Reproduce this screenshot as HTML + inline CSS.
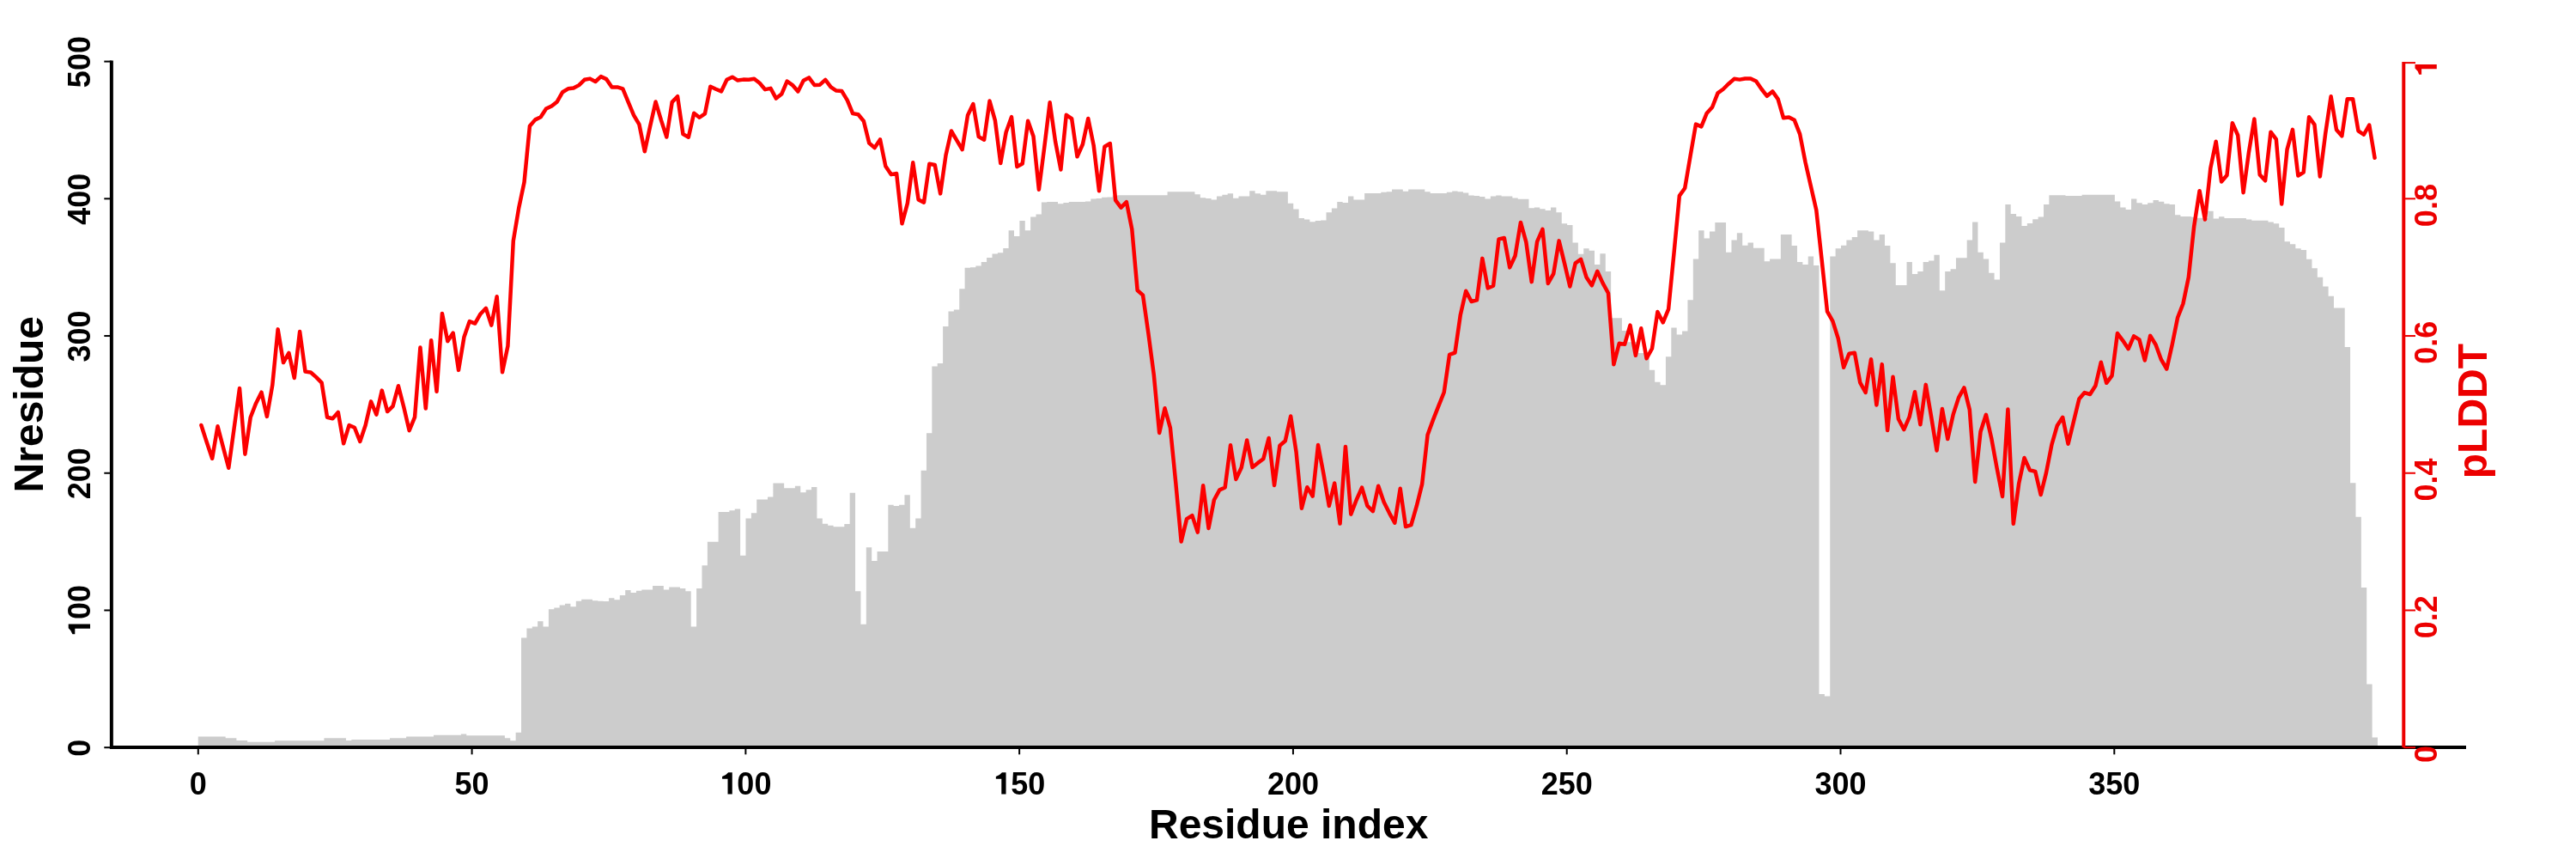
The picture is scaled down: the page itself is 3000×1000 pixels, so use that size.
<!DOCTYPE html>
<html><head><meta charset="utf-8"><title>plot</title>
<style>html,body{margin:0;padding:0;background:#fff}svg{display:block;will-change:transform}text{font-family:"Liberation Sans",sans-serif;font-weight:bold}</style></head><body>
<svg width="3000" height="1000" viewBox="0 0 3000 1000">
<rect x="0" y="0" width="3000" height="1000" fill="#ffffff"/>
<path d="M230.75 870.2L230.75 857.42L237.13 857.42L237.13 857.42L243.5 857.42L243.5 857.42L249.88 857.42L249.88 857.42L256.26 857.42L256.26 857.42L262.64 857.42L262.64 859.34L269.01 859.34L269.01 859.34L275.39 859.34L275.39 862.05L281.77 862.05L281.77 862.05L288.15 862.05L288.15 863.81L294.52 863.81L294.52 863.81L300.9 863.81L300.9 863.81L307.28 863.81L307.28 863.81L313.66 863.81L313.66 863.81L320.04 863.81L320.04 862.29L326.41 862.29L326.41 862.29L332.79 862.29L332.79 862.29L339.17 862.29L339.17 862.29L345.55 862.29L345.55 862.29L351.92 862.29L351.92 862.29L358.3 862.29L358.3 862.29L364.68 862.29L364.68 862.29L371.06 862.29L371.06 862.29L377.43 862.29L377.43 859.34L383.81 859.34L383.81 859.34L390.19 859.34L390.19 859.34L396.56 859.34L396.56 859.34L402.94 859.34L402.94 862.05L409.32 862.05L409.32 860.94L415.7 860.94L415.7 860.94L422.08 860.94L422.08 860.94L428.45 860.94L428.45 860.94L434.83 860.94L434.83 860.94L441.21 860.94L441.21 860.94L447.59 860.94L447.59 860.94L453.96 860.94L453.96 859.34L460.34 859.34L460.34 859.34L466.72 859.34L466.72 859.34L473.1 859.34L473.1 857.42L479.47 857.42L479.47 857.42L485.85 857.42L485.85 857.42L492.23 857.42L492.23 857.42L498.61 857.42L498.61 857.42L504.98 857.42L504.98 855.83L511.36 855.83L511.36 855.83L517.74 855.83L517.74 855.83L524.12 855.83L524.12 855.83L530.49 855.83L530.49 855.83L536.87 855.83L536.87 854.55L543.25 854.55L543.25 856.14L549.62 856.14L549.62 856.14L556 856.14L556 856.14L562.38 856.14L562.38 856.14L568.76 856.14L568.76 856.14L575.13 856.14L575.13 856.14L581.51 856.14L581.51 856.14L587.89 856.14L587.89 859.34L594.27 859.34L594.27 862.21L600.64 862.21L600.64 852.63L607.02 852.63L607.02 742.42L613.4 742.42L613.4 731.48L619.78 731.48L619.78 729.62L626.15 729.62L626.15 723.33L632.53 723.33L632.53 729.62L638.91 729.62L638.91 709.37L645.29 709.37L645.29 707.5L651.66 707.5L651.66 704.48L658.04 704.48L658.04 702.85L664.42 702.85L664.42 706.34L670.8 706.34L670.8 699.82L677.17 699.82L677.17 697.73L683.55 697.73L683.55 697.73L689.93 697.73L689.93 699.36L696.31 699.36L696.31 699.82L702.68 699.82L702.68 700.06L709.06 700.06L709.06 696.33L715.44 696.33L715.44 698.19L721.82 698.19L721.82 693.07L728.2 693.07L728.2 687.02L734.57 687.02L734.57 690.05L740.95 690.05L740.95 687.72L747.33 687.72L747.33 686.55L753.71 686.55L753.71 686.55L760.08 686.55L760.08 681.9L766.46 681.9L766.46 681.9L772.84 681.9L772.84 686.55L779.22 686.55L779.22 683.53L785.59 683.53L785.59 683.53L791.97 683.53L791.97 684.93L798.35 684.93L798.35 688.18L804.73 688.18L804.73 729.62L811.1 729.62L811.1 684.93L817.48 684.93L817.48 658.16L823.86 658.16L823.86 630.82L830.24 630.82L830.24 630.82L836.61 630.82L836.61 595.9L842.99 595.9L842.99 595.9L849.37 595.9L849.37 594.27L855.75 594.27L855.75 592.41L862.12 592.41L862.12 646.65L868.5 646.65L868.5 603.58L874.88 603.58L874.88 597.3L881.25 597.3L881.25 581.47L887.63 581.47L887.63 581.47L894.01 581.47L894.01 578.45L900.39 578.45L900.39 562.38L906.76 562.38L906.76 562.38L913.14 562.38L913.14 568.2L919.52 568.2L919.52 568.2L925.9 568.2L925.9 565.64L932.28 565.64L932.28 573.32L938.65 573.32L938.65 570.3L945.03 570.3L945.03 567.04L951.41 567.04L951.41 603.58L957.79 603.58L957.79 609.87L964.16 609.87L964.16 611.73L970.54 611.73L970.54 613.36L976.92 613.36L976.92 613.36L983.3 613.36L983.3 610.1L989.67 610.1L989.67 573.79L996.05 573.79L996.05 688.18L1002.43 688.18L1002.43 726.82L1008.81 726.82L1008.81 637.34L1015.18 637.34L1015.18 652.93L1021.56 652.93L1021.56 641.99L1027.94 641.99L1027.94 641.99L1034.32 641.99L1034.32 587.76L1040.69 587.76L1040.69 588.92L1047.07 588.92L1047.07 587.76L1053.45 587.76L1053.45 576.35L1059.83 576.35L1059.83 614.76L1066.2 614.76L1066.2 603.58L1072.58 603.58L1072.58 547.72L1078.96 547.72L1078.96 504.19L1085.34 504.19L1085.34 426.43L1091.71 426.43L1091.71 422.94L1098.09 422.94L1098.09 379.88L1104.47 379.88L1104.47 362.42L1110.85 362.42L1110.85 360.56L1117.22 360.56L1117.22 336.35L1123.6 336.35L1123.6 311.68L1129.98 311.68L1129.98 311.21L1136.36 311.21L1136.36 309.58L1142.73 309.58L1142.73 304.93L1149.11 304.93L1149.11 300.04L1155.49 300.04L1155.49 295.38L1161.87 295.38L1161.87 294.22L1168.24 294.22L1168.24 289.1L1174.62 289.1L1174.62 268.15L1181 268.15L1181 275L1187.38 275L1187.38 257.07L1193.75 257.07L1193.75 268.25L1200.13 268.25L1200.13 252.41L1206.51 252.41L1206.51 249.61L1212.89 249.61L1212.89 235.4L1219.26 235.4L1219.26 234.94L1225.64 234.94L1225.64 234.94L1232.02 234.94L1232.02 237.27L1238.39 237.27L1238.39 236.1L1244.77 236.1L1244.77 234.94L1251.15 234.94L1251.15 234.94L1257.53 234.94L1257.53 234.94L1263.9 234.94L1263.9 234.47L1270.28 234.47L1270.28 231.44L1276.66 231.44L1276.66 230.98L1283.04 230.98L1283.04 229.81L1289.41 229.81L1289.41 229.58L1295.79 229.58L1295.79 227.48L1302.17 227.48L1302.17 227.25L1308.55 227.25L1308.55 227.25L1314.92 227.25L1314.92 227.25L1321.3 227.25L1321.3 227.25L1327.68 227.25L1327.68 227.25L1334.06 227.25L1334.06 227.25L1340.44 227.25L1340.44 227.25L1346.81 227.25L1346.81 227.25L1353.19 227.25L1353.19 227.25L1359.57 227.25L1359.57 223.29L1365.95 223.29L1365.95 223.29L1372.32 223.29L1372.32 223.29L1378.7 223.29L1378.7 223.29L1385.08 223.29L1385.08 223.29L1391.46 223.29L1391.46 226.32L1397.83 226.32L1397.83 230.28L1404.21 230.28L1404.21 230.98L1410.59 230.98L1410.59 232.61L1416.97 232.61L1416.97 228.42L1423.34 228.42L1423.34 226.79L1429.72 226.79L1429.72 225.16L1436.1 225.16L1436.1 230.75L1442.48 230.75L1442.48 228.42L1448.85 228.42L1448.85 228.42L1455.23 228.42L1455.23 222.13L1461.61 222.13L1461.61 225.16L1467.99 225.16L1467.99 226.79L1474.36 226.79L1474.36 222.13L1480.74 222.13L1480.74 222.13L1487.12 222.13L1487.12 223.29L1493.5 223.29L1493.5 223.29L1499.87 223.29L1499.87 236.8L1506.25 236.8L1506.25 243.56L1512.63 243.56L1512.63 254.04L1519.01 254.04L1519.01 255.44L1525.38 255.44L1525.38 258.23L1531.76 258.23L1531.76 257.07L1538.14 257.07L1538.14 256.6L1544.52 256.6L1544.52 247.28L1550.89 247.28L1550.89 242.62L1557.27 242.62L1557.27 234.94L1563.65 234.94L1563.65 236.1L1570.03 236.1L1570.03 228.42L1576.4 228.42L1576.4 232.61L1582.78 232.61L1582.78 232.61L1589.16 232.61L1589.16 224.92L1595.54 224.92L1595.54 224.92L1601.91 224.92L1601.91 224.92L1608.29 224.92L1608.29 223.76L1614.67 223.76L1614.67 223.29L1621.05 223.29L1621.05 220.5L1627.42 220.5L1627.42 220.5L1633.8 220.5L1633.8 222.83L1640.18 222.83L1640.18 220.5L1646.56 220.5L1646.56 220.5L1652.93 220.5L1652.93 220.5L1659.31 220.5L1659.31 223.29L1665.69 223.29L1665.69 224.92L1672.07 224.92L1672.07 224.92L1678.44 224.92L1678.44 224.92L1684.82 224.92L1684.82 223.76L1691.2 223.76L1691.2 222.59L1697.58 222.59L1697.58 223.29L1703.95 223.29L1703.95 224.46L1710.33 224.46L1710.33 227.48L1716.71 227.48L1716.71 227.95L1723.09 227.95L1723.09 229.12L1729.46 229.12L1729.46 231.44L1735.84 231.44L1735.84 228.42L1742.22 228.42L1742.22 227.48L1748.6 227.48L1748.6 228.42L1754.97 228.42L1754.97 228.42L1761.35 228.42L1761.35 230.48L1767.73 230.48L1767.73 231.65L1774.11 231.65L1774.11 231.65L1780.48 231.65L1780.48 242.13L1786.86 242.13L1786.86 241.43L1793.24 241.43L1793.24 243.29L1799.62 243.29L1799.62 244.92L1805.99 244.92L1805.99 241.43L1812.37 241.43L1812.37 247.25L1818.75 247.25L1818.75 260.3L1825.12 260.3L1825.12 261.93L1831.5 261.93L1831.5 282.42L1837.88 282.42L1837.88 295.7L1844.26 295.7L1844.26 289.18L1850.63 289.18L1850.63 291.74L1857.01 291.74L1857.01 308.04L1863.39 308.04L1863.39 295.23L1869.77 295.23L1869.77 315.96L1876.15 315.96L1876.15 370.35L1882.52 370.35L1882.52 370.35L1888.9 370.35L1888.9 384.97L1895.28 384.97L1895.28 398.24L1901.66 398.24L1901.66 398.24L1908.03 398.24L1908.03 411.09L1914.41 411.09L1914.41 411.09L1920.79 411.09L1920.79 430.83L1927.17 430.83L1927.17 444.8L1933.54 444.8L1933.54 448.29L1939.92 448.29L1939.92 415.23L1946.3 415.23L1946.3 381.48L1952.68 381.48L1952.68 389.39L1959.05 389.39L1959.05 385.44L1965.43 385.44L1965.43 349.36L1971.81 349.36L1971.81 301.52L1978.19 301.52L1978.19 268.21L1984.56 268.21L1984.56 277.53L1990.94 277.53L1990.94 269.61L1997.32 269.61L1997.32 258.9L2003.7 258.9L2003.7 258.9L2010.07 258.9L2010.07 293.84L2016.45 293.84L2016.45 279.39L2022.83 279.39L2022.83 271.24L2029.21 271.24L2029.21 285.68L2035.58 285.68L2035.58 282.42L2041.96 282.42L2041.96 288.71L2048.34 288.71L2048.34 288.71L2054.72 288.71L2054.72 304.32L2061.09 304.32L2061.09 301.52L2067.47 301.52L2067.47 301.52L2073.85 301.52L2073.85 273.11L2080.23 273.11L2080.23 273.11L2086.6 273.11L2086.6 285.92L2092.98 285.92L2092.98 305.02L2099.36 305.02L2099.36 308.04L2105.74 308.04L2105.74 298.49L2112.11 298.49L2112.11 308.98L2118.49 308.98L2118.49 808L2124.87 808L2124.87 810.5L2131.24 810.5L2131.24 298.49L2137.62 298.49L2137.62 289.18L2144 289.18L2144 285.68L2150.38 285.68L2150.38 279.39L2156.76 279.39L2156.76 275.9L2163.13 275.9L2163.13 268.21L2169.51 268.21L2169.51 268.21L2175.89 268.21L2175.89 269.61L2182.27 269.61L2182.27 279.39L2188.64 279.39L2188.64 273.11L2195.02 273.11L2195.02 285.92L2201.4 285.92L2201.4 306.18L2207.78 306.18L2207.78 331.9L2214.15 331.9L2214.15 331.9L2220.53 331.9L2220.53 305.02L2226.91 305.02L2226.91 319.1L2233.28 319.1L2233.28 315.96L2239.66 315.96L2239.66 305.02L2246.04 305.02L2246.04 303.39L2252.42 303.39L2252.42 296.86L2258.8 296.86L2258.8 338.18L2265.17 338.18L2265.17 315.96L2271.55 315.96L2271.55 313.17L2277.93 313.17L2277.93 300.36L2284.31 300.36L2284.31 300.36L2290.68 300.36L2290.68 279.39L2297.06 279.39L2297.06 258.43L2303.44 258.43L2303.44 293.84L2309.82 293.84L2309.82 301.52L2316.19 301.52L2316.19 317.83L2322.57 317.83L2322.57 325.61L2328.95 325.61L2328.95 282.42L2335.33 282.42L2335.33 237.97L2341.7 237.97L2341.7 248.91L2348.08 248.91L2348.08 251.94L2354.46 251.94L2354.46 262.89L2360.84 262.89L2360.84 260.09L2367.21 260.09L2367.21 255.2L2373.59 255.2L2373.59 252.41L2379.97 252.41L2379.97 237.97L2386.35 237.97L2386.35 227.25L2392.72 227.25L2392.72 227.25L2399.1 227.25L2399.1 227.25L2405.48 227.25L2405.48 227.95L2411.86 227.95L2411.86 227.95L2418.23 227.95L2418.23 227.95L2424.61 227.95L2424.61 226.79L2430.99 226.79L2430.99 226.79L2437.37 226.79L2437.37 226.79L2443.74 226.79L2443.74 226.79L2450.12 226.79L2450.12 226.79L2456.5 226.79L2456.5 226.79L2462.88 226.79L2462.88 234.52L2469.25 234.52L2469.25 241.5L2475.63 241.5L2475.63 244.12L2482.01 244.12L2482.01 231.55L2488.39 231.55L2488.39 236.26L2494.76 236.26L2494.76 238.01L2501.14 238.01L2501.14 236.26L2507.52 236.26L2507.52 233.12L2513.89 233.12L2513.89 234.87L2520.27 234.87L2520.27 237.14L2526.65 237.14L2526.65 238.01L2533.03 238.01L2533.03 250.23L2539.41 250.23L2539.41 251.98L2545.78 251.98L2545.78 251.98L2552.16 251.98L2552.16 252.85L2558.54 252.85L2558.54 253.72L2564.91 253.72L2564.91 254.25L2571.29 254.25L2571.29 245.87L2577.67 245.87L2577.67 254.59L2584.05 254.59L2584.05 252.33L2590.43 252.33L2590.43 254.07L2596.8 254.07L2596.8 254.07L2603.18 254.07L2603.18 254.07L2609.56 254.07L2609.56 254.07L2615.93 254.07L2615.93 255.47L2622.31 255.47L2622.31 256.86L2628.69 256.86L2628.69 256.86L2635.07 256.86L2635.07 256.86L2641.45 256.86L2641.45 258.44L2647.82 258.44L2647.82 260.18L2654.2 260.18L2654.2 265.07L2660.58 265.07L2660.58 281.13L2666.95 281.13L2666.95 284.27L2673.33 284.27L2673.33 289.16L2679.71 289.16L2679.71 290.91L2686.09 290.91L2686.09 301.73L2692.47 301.73L2692.47 312.21L2698.84 312.21L2698.84 322.68L2705.22 322.68L2705.22 333.51L2711.6 333.51L2711.6 344.63L2717.98 344.63L2717.98 358.6L2724.35 358.6L2724.35 358.6L2730.73 358.6L2730.73 404.02L2737.11 404.02L2737.11 562.27L2743.49 562.27L2743.49 601.66L2749.86 601.66L2749.86 684.1L2756.24 684.1L2756.24 796.59L2762.62 796.59L2762.62 858.43L2769 858.43L2769 870.2 Z" fill="#cccccc"/>
<polyline points="234.38,495.01 240.75,514.8 247.13,533.78 253.5,496.27 259.88,520.61 266.26,544.72 272.63,498.5 279.01,452.05 285.38,528.66 291.76,485.7 298.13,469.4 304.51,456.7 310.89,484.9 317.26,448.45 323.64,383.38 330.01,422.05 336.39,410.85 342.77,439.97 349.14,385.94 355.52,432.63 361.89,433.56 368.27,439.14 374.65,445.66 381.02,485.7 387.4,487.28 393.77,479.98 400.15,516.32 406.53,495.03 412.9,497.8 419.28,514 425.65,495.01 432.03,467.41 438.4,482.57 444.78,454.61 451.16,479.08 457.53,472.9 463.91,449.25 470.28,474.06 476.66,501.19 483.04,485.7 489.41,404.56 495.79,475.59 502.16,396.18 508.54,455.8 514.92,364.99 521.29,397.14 527.67,387.57 534.04,430.89 540.42,392.59 546.79,374.11 553.17,376.55 559.55,365.44 565.92,358.79 572.3,378.6 578.67,345.29 585.05,433.31 591.43,402.68 597.8,280.47 604.18,242.25 610.55,211.99 616.93,146.82 623.31,139.37 629.68,136.34 636.06,126.56 642.43,123.54 648.81,118.42 655.19,107.24 661.56,103.29 667.94,102.59 674.31,99.1 680.69,92.81 687.06,91.62 693.44,94.98 699.82,89.15 706.19,92.11 712.57,101.42 718.94,101.42 725.32,103.29 731.7,118.88 738.07,134.01 744.45,144.95 750.82,176.28 757.2,146.82 763.58,118.52 769.95,139.83 776.33,159.52 782.7,118.88 789.08,112.23 795.46,156.13 801.83,159.69 808.21,131.79 814.58,136.74 820.96,132.38 827.33,100.78 833.71,103.75 840.09,106.32 846.46,92.81 852.84,89.65 859.21,93.57 865.59,92.61 871.97,92.78 878.34,91.82 884.72,96.77 891.09,104.17 897.47,102.87 903.85,114.59 910.22,109.57 916.6,94.54 922.97,99.1 929.35,106.44 935.72,93.74 942.1,90.38 948.48,99.03 954.85,98.63 961.23,92.91 967.6,101.42 973.98,105.61 980.36,106.08 986.73,116.55 993.11,132.15 999.48,133.31 1005.86,141 1012.24,166.6 1018.61,172.09 1024.99,162.49 1031.36,193.58 1037.74,203.12 1044.12,201.98 1050.49,260.29 1056.87,236.65 1063.24,189.26 1069.62,232.46 1075.99,235.62 1082.37,190.77 1088.75,191.96 1095.12,225.37 1101.5,180.78 1107.87,152.49 1114.25,163.32 1120.63,174.16 1127,134.23 1133.38,121.06 1139.75,159.13 1146.13,162.7 1152.51,117.57 1158.88,140.05 1165.26,189.99 1171.63,154.01 1178.01,136.19 1184.38,194.12 1190.76,190.56 1197.14,140.85 1203.51,158.67 1209.89,220.72 1216.26,171.47 1222.64,119.2 1229.02,164.49 1235.39,197.44 1241.77,133.83 1248.14,138.18 1254.52,182.31 1260.9,167.98 1267.27,138.05 1273.65,169.14 1280.02,222.35 1286.4,170.77 1292.78,167.01 1299.15,233.16 1305.53,241.67 1311.9,235.12 1318.28,266.91 1324.65,337.99 1331.03,343.58 1337.41,388.27 1343.78,436.22 1350.16,503.91 1356.53,475.25 1362.91,498.19 1369.29,562.21 1375.66,630.54 1382.04,604.11 1388.41,600.15 1394.79,619.6 1401.17,565.33 1407.54,614.94 1413.92,581.99 1420.29,570.35 1426.67,567.56 1433.05,518.31 1439.42,557.92 1445.8,544.28 1452.17,512.49 1458.55,543.95 1464.92,538.93 1471.3,534.27 1477.68,509.93 1484.05,564.9 1490.43,518.68 1496.8,513.32 1503.18,484.56 1509.56,526.13 1515.93,591.67 1522.31,567.2 1528.68,577.7 1535.06,518.08 1541.44,551.73 1547.81,588.87 1554.19,562.54 1560.56,609.59 1566.94,519.94 1573.31,598.65 1579.69,581.99 1586.07,567.66 1592.44,588.98 1598.82,595.16 1605.19,565.8 1611.57,584.32 1617.95,597.12 1624.32,608.66 1630.7,568.83 1637.07,613.07 1643.45,611.09 1649.83,588.98 1656.2,563.37 1662.58,506.34 1668.95,488.88 1675.33,472.59 1681.71,456.76 1688.08,412.94 1694.46,410.61 1700.83,366.39 1707.21,338.79 1713.58,350.99 1719.96,349.4 1726.34,300.86 1732.71,335.41 1739.09,332.64 1745.46,278.41 1751.84,277.02 1758.22,311.36 1764.59,297.73 1770.97,258.96 1777.34,281.9 1783.72,328.12 1790.1,281.43 1796.47,266.87 1802.85,329.98 1809.22,318.68 1815.6,280.37 1821.97,306.34 1828.35,333.47 1834.73,306.34 1841.1,301.79 1847.48,322.64 1853.85,332.31 1860.23,315.75 1866.61,329.62 1872.98,341.26 1879.36,424.26 1885.73,399.7 1892.11,400.84 1898.49,378.6 1904.86,413.78 1911.24,382.33 1917.61,417.27 1923.99,405.74 1930.37,363.01 1936.74,375.37 1943.12,359.88 1949.49,294.7 1955.87,227.82 1962.24,218.98 1968.62,181.27 1975,144.62 1981.37,147.39 1987.75,131.69 1994.12,124.7 2000.5,108.41 2006.88,103.75 2013.25,97.47 2019.63,91.82 2026,92.64 2032.38,91.42 2038.76,91.42 2045.13,94.44 2051.51,103.75 2057.88,111.8 2064.26,106.41 2070.64,115.39 2077.01,137.33 2083.39,136.52 2089.76,139.83 2096.14,156.13 2102.51,188.72 2108.89,216.65 2115.27,244.58 2121.64,302.85 2128.02,362.67 2134.39,373.85 2140.77,394.1 2147.15,427.75 2153.52,411.69 2159.9,410.7 2166.27,445.44 2172.65,456.97 2179.03,418.3 2185.4,471.41 2191.78,424.12 2198.15,500.97 2204.53,438.79 2210.9,487.8 2217.28,500.04 2223.66,485.47 2230.03,456.25 2236.41,494.22 2242.78,447.87 2249.16,485.47 2255.54,524.48 2261.91,476.03 2268.29,510.98 2274.66,482.68 2281.04,462.9 2287.42,451.36 2293.79,476.86 2300.17,560.93 2306.54,502.47 2312.92,482.78 2319.3,510.61 2325.67,545.44 2332.05,577.92 2338.42,476.5 2344.8,609.81 2351.17,562.9 2357.55,533.06 2363.93,547.3 2370.3,548.93 2376.68,576.06 2383.05,550.09 2389.43,517.6 2395.81,495.48 2402.18,485.81 2408.56,516.8 2414.93,490.83 2421.31,464.53 2427.69,457.03 2434.06,458.99 2440.44,448.93 2446.81,421.8 2453.19,445.8 2459.57,437.29 2465.94,388.04 2472.32,396.55 2478.69,406.23 2485.07,391.43 2491.44,395.39 2497.82,419.5 2504.2,390.84 2510.57,401.21 2516.95,418.67 2523.32,429.51 2529.7,401.21 2536.08,369.79 2542.45,353.49 2548.83,322.68 2555.2,263.32 2561.58,222.22 2567.96,255.54 2574.33,195.91 2580.71,164.82 2587.08,211.41 2593.46,204.06 2599.83,143.17 2606.21,157.5 2612.59,224.21 2618.96,177.29 2625.34,138.52 2631.71,203.36 2638.09,210.24 2644.47,153.65 2650.84,162.16 2657.22,237.48 2663.59,173.8 2669.97,150.86 2676.35,204.53 2682.72,200.57 2689.1,136.19 2695.47,145.17 2701.85,205.59 2708.23,155.18 2714.6,112.22 2720.98,150.99 2727.35,158.33 2733.73,115.14 2740.1,115.14 2746.48,152.38 2752.86,156.74 2759.23,145.5 2765.61,183.81" fill="none" stroke="#fc0000" stroke-width="4.5" stroke-linejoin="round" stroke-linecap="round"/>
<path d="M129.85 70.6 L129.85 870 L2872 870" fill="none" stroke="#000" stroke-width="4" stroke-linejoin="miter" stroke-linecap="butt"/>
<line x1="121.3" y1="870.2" x2="129.85" y2="870.2" stroke="#000" stroke-width="2"/>
<text transform="translate(105 870.7) rotate(-90)" text-anchor="middle" font-size="36" fill="#000">0</text>
<line x1="121.3" y1="710.48" x2="129.85" y2="710.48" stroke="#000" stroke-width="2"/>
<g transform="translate(105 710.98) rotate(-90)" fill="#000"><path d="M-15.6 0 L-15.6 -25.3 L-20.2 -25.3 Q-22.8 -21.9 -27.3 -20.6 L-27.3 -17.7 L-20.85 -17.7 L-20.85 0 Z"/><text x="-10.01" y="0" text-anchor="start" font-size="36">00</text></g>
<line x1="121.3" y1="550.76" x2="129.85" y2="550.76" stroke="#000" stroke-width="2"/>
<text transform="translate(105 551.26) rotate(-90)" text-anchor="middle" font-size="36" fill="#000">200</text>
<line x1="121.3" y1="391.04" x2="129.85" y2="391.04" stroke="#000" stroke-width="2"/>
<text transform="translate(105 391.54) rotate(-90)" text-anchor="middle" font-size="36" fill="#000">300</text>
<line x1="121.3" y1="231.32" x2="129.85" y2="231.32" stroke="#000" stroke-width="2"/>
<text transform="translate(105 231.82) rotate(-90)" text-anchor="middle" font-size="36" fill="#000">400</text>
<line x1="121.3" y1="71.6" x2="129.85" y2="71.6" stroke="#000" stroke-width="2"/>
<text transform="translate(105 72.1) rotate(-90)" text-anchor="middle" font-size="36" fill="#000">500</text>
<line x1="230.8" y1="870.2" x2="230.8" y2="878.3" stroke="#000" stroke-width="2"/>
<text transform="translate(230.8 924.5)" text-anchor="middle" font-size="36" fill="#000">0</text>
<line x1="549.59" y1="870.2" x2="549.59" y2="878.3" stroke="#000" stroke-width="2"/>
<text transform="translate(549.59 924.5)" text-anchor="middle" font-size="36" fill="#000">50</text>
<line x1="868.37" y1="870.2" x2="868.37" y2="878.3" stroke="#000" stroke-width="2"/>
<g transform="translate(868.37 924.5)" fill="#000"><path d="M-15.6 0 L-15.6 -25.3 L-20.2 -25.3 Q-22.8 -21.9 -27.3 -20.6 L-27.3 -17.7 L-20.85 -17.7 L-20.85 0 Z"/><text x="-10.01" y="0" text-anchor="start" font-size="36">00</text></g>
<line x1="1187.15" y1="870.2" x2="1187.15" y2="878.3" stroke="#000" stroke-width="2"/>
<g transform="translate(1187.15 924.5)" fill="#000"><path d="M-15.6 0 L-15.6 -25.3 L-20.2 -25.3 Q-22.8 -21.9 -27.3 -20.6 L-27.3 -17.7 L-20.85 -17.7 L-20.85 0 Z"/><text x="-10.01" y="0" text-anchor="start" font-size="36">50</text></g>
<line x1="1505.94" y1="870.2" x2="1505.94" y2="878.3" stroke="#000" stroke-width="2"/>
<text transform="translate(1505.94 924.5)" text-anchor="middle" font-size="36" fill="#000">200</text>
<line x1="1824.72" y1="870.2" x2="1824.72" y2="878.3" stroke="#000" stroke-width="2"/>
<text transform="translate(1824.72 924.5)" text-anchor="middle" font-size="36" fill="#000">250</text>
<line x1="2143.51" y1="870.2" x2="2143.51" y2="878.3" stroke="#000" stroke-width="2"/>
<text transform="translate(2143.51 924.5)" text-anchor="middle" font-size="36" fill="#000">300</text>
<line x1="2462.3" y1="870.2" x2="2462.3" y2="878.3" stroke="#000" stroke-width="2"/>
<text transform="translate(2462.3 924.5)" text-anchor="middle" font-size="36" fill="#000">350</text>
<line x1="2799.3" y1="72.1" x2="2799.3" y2="870.2" stroke="#ec0000" stroke-width="4" stroke-linecap="butt"/>
<line x1="2799.3" y1="870.2" x2="2813" y2="870.2" stroke="#ec0000" stroke-width="2"/>
<text transform="translate(2837.8 878) rotate(-90)" text-anchor="middle" font-size="36" fill="#ec0000">0</text>
<line x1="2799.3" y1="710.48" x2="2813" y2="710.48" stroke="#ec0000" stroke-width="2"/>
<text transform="translate(2837.8 718.28) rotate(-90)" text-anchor="middle" font-size="36" fill="#ec0000">0.2</text>
<line x1="2799.3" y1="550.76" x2="2813" y2="550.76" stroke="#ec0000" stroke-width="2"/>
<text transform="translate(2837.8 558.56) rotate(-90)" text-anchor="middle" font-size="36" fill="#ec0000">0.4</text>
<line x1="2799.3" y1="391.04" x2="2813" y2="391.04" stroke="#ec0000" stroke-width="2"/>
<text transform="translate(2837.8 398.84) rotate(-90)" text-anchor="middle" font-size="36" fill="#ec0000">0.6</text>
<line x1="2799.3" y1="231.32" x2="2813" y2="231.32" stroke="#ec0000" stroke-width="2"/>
<text transform="translate(2837.8 239.12) rotate(-90)" text-anchor="middle" font-size="36" fill="#ec0000">0.8</text>
<line x1="2799.3" y1="73.1" x2="2813" y2="73.1" stroke="#ec0000" stroke-width="2"/>
<g transform="translate(2837.8 79.4) rotate(-90)" fill="#ec0000"><path d="M4.42 0 L4.42 -25.3 L-0.18 -25.3 Q-2.78 -21.9 -7.28 -20.6 L-7.28 -17.7 L-0.83 -17.7 L-0.83 0 Z"/></g>
<text transform="translate(49.5 470.7) rotate(-90)" text-anchor="middle" font-size="48" fill="#000">Nresidue</text>
<text x="1500.7" y="975.8" text-anchor="middle" font-size="48" fill="#000">Residue index</text>
<text transform="translate(2895.6 478.6) rotate(-90)" text-anchor="middle" font-size="48" fill="#ec0000">pLDDT</text>
</svg></body></html>
